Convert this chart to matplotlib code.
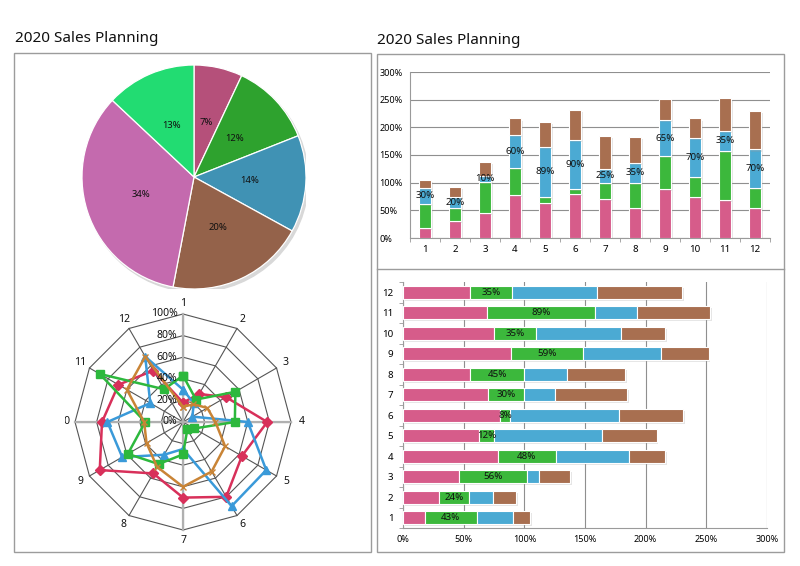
import numpy as np
import matplotlib.pyplot as plt
import matplotlib.patheffects as pe
from matplotlib.patches import Rectangle, Circle
from matplotlib.transforms import Bbox, TransformedBbox

plt.rcParams['font.family'] = ['Noto Sans', 'DejaVu Sans']

W, H = 800, 566

# ── data ──────────────────────────────────────────────────────────────────────
months = [str(i) for i in range(1, 13)]
pink  = [18, 30, 46, 78, 63, 80, 70, 55, 89, 75, 69, 55]
green = [43, 24, 56, 48, 12, 8, 30, 45, 59, 35, 89, 35]
blue  = [30, 20, 10, 60, 89, 90, 25, 35, 65, 70, 35, 70]
brown = [14, 19, 26, 30, 45, 53, 60, 48, 39, 36, 60, 70]

pie_shares  = [7, 12, 14, 20, 34, 13]
pie_colours = ["#B5507A", "#2EA22E", "#4092B4", "#94624A", "#C46AAE", "#22DC72"]

bar_colours   = ["#D65C8A", "#3CB83C", "#4BAAD3", "#A86F50"]
radar_colours = ["#D8305A", "#2DB83D", "#3A9AD9", "#C98436"]

fig = plt.figure(figsize=(W / 100, H / 100), dpi=100, facecolor="white")


def px_axes(x0, y0, x1, y1, **kw):
    return fig.add_axes([x0 / W, 1 - y1 / H, (x1 - x0) / W, (y1 - y0) / H], **kw)


def px_rect(x0, y0, x1, y1):
    fig.add_artist(Rectangle((x0 / W, 1 - y1 / H), (x1 - x0) / W, (y1 - y0) / H,
                             transform=fig.transFigure, fill=False,
                             ec="#9c9c9c", lw=1.0))


# frames + titles
px_rect(14, 53, 371, 552)
px_rect(377, 54, 784, 552)
fig.add_artist(plt.Line2D([377 / W, 784 / W], [1 - 269 / H, 1 - 269 / H],
                          transform=fig.transFigure, color="#9c9c9c", lw=1.0))
fig.text(15 / W, 1 - 38 / H, "2020 Sales Planning", fontsize=11,
         va="center", ha="left", weight="medium", color="#111")
fig.text(377 / W, 1 - 41 / H, "2020 Sales Planning", fontsize=11,
         va="center", ha="left", weight="medium", color="#111")

shadow = [pe.SimplePatchShadow(offset=(1.2, -1.5), shadow_rgbFace="#999", alpha=0.25),
          pe.Normal()]

# ── pie ───────────────────────────────────────────────────────────────────────
ax_pie = px_axes(82, 65, 306, 289)
ax_pie.add_patch(Circle((0.02, -0.025), 1.0, color="#d8d8d8", zorder=0))
ax_pie.pie(pie_shares, colors=pie_colours, startangle=90, counterclock=False,
           labels=[f"{v}%" for v in pie_shares], labeldistance=0.5,
           wedgeprops=dict(edgecolor="white", linewidth=0.9),
           textprops=dict(fontsize=6.8, ha="center", va="center", color="#111"))
ax_pie.set_xlim(-1, 1)
ax_pie.set_ylim(-1, 1)

# ── radar ─────────────────────────────────────────────────────────────────────
ax_r = px_axes(75, 314, 291, 530, projection="polar")
ax_r.set_theta_zero_location("N")
ax_r.set_theta_direction(-1)
ax_r.set_ylim(0, 100)
ax_r.set_axis_off()

angles = np.arange(12) * 2 * np.pi / 12
closed = np.append(angles, angles[0])
for r in range(20, 101, 20):
    ax_r.plot(closed, [r] * 13, color="#555", lw=0.8, clip_on=False)
for a in angles:
    ax_r.plot([a, a], [0, 100], color="#555", lw=0.8, clip_on=False)
ax_r.plot([0, np.pi], [100, 100], color="#b0b0b0", lw=1.6, clip_on=False)
ax_r.plot([np.pi / 2, 3 * np.pi / 2], [100, 100], color="#b0b0b0", lw=1.6, clip_on=False)

series = [(pink, radar_colours[0], "D", 5),
          (blue, radar_colours[2], "^", 6),
          (green, radar_colours[1], "s", 5.5),
          (brown, radar_colours[3], "x", 4)]
for vals, col, mk, ms in series:
    ax_r.plot(closed, vals + vals[:1], color=col, lw=1.8, marker=mk, ms=ms,
              mew=1.0, clip_on=False)

for r in range(0, 101, 20):
    ax_r.annotate(f"{r}%", (0, r), xytext=(-4, 0), textcoords="offset points",
                  ha="right", va="center", fontsize=7.5, color="#111")

clip_box = TransformedBbox(Bbox.from_extents(65 / W, 0, 1, 1), fig.transFigure)
for a, lab in zip(angles, months):
    t = ax_r.text(a, 110, lab, ha="center", va="center", fontsize=7.5, color="#111")
    if lab == "10":
        t.set_clip_box(clip_box)
        t.set_clip_on(True)
    else:
        t.set_clip_on(False)

# ── vertical stacked columns ─────────────────────────────────────────────────
x = np.arange(1, 13)
ax_v = px_axes(410, 72, 770, 238)
base = np.zeros(12)
for vals, col in zip([pink, green, blue, brown], bar_colours):
    ax_v.bar(x, vals, 0.4, bottom=base, color=col, edgecolor="white", lw=0.8,
             zorder=3, path_effects=shadow)
    base += vals
for xi, b, v in zip(x, np.add(pink, green), blue):
    ax_v.text(xi, b + v / 2, f"{v}%", ha="center", va="center", fontsize=7,
              color="#111", zorder=4)
ax_v.set_xlim(0.5, 12.5)
ax_v.set_ylim(0, 300)
ax_v.set_yticks(range(0, 301, 50))
ax_v.set_yticklabels([f"{t}%" for t in range(0, 301, 50)])
ax_v.set_xticks(x)
ax_v.set_xticklabels(months)
ax_v.set_xticks(np.arange(0.5, 13), minor=True)
ax_v.tick_params(axis="y", length=0, labelsize=6.5, pad=22)
for lab in ax_v.get_yticklabels():
    lab.set_ha("left")
ax_v.tick_params(axis="x", which="major", length=0, labelsize=7, pad=5)
ax_v.tick_params(axis="x", which="minor", length=3, color="#999")
ax_v.grid(axis="y", color="#8f8f8f", lw=0.8, zorder=0)
for s in ["top", "right"]:
    ax_v.spines[s].set_visible(False)
for s in ["left", "bottom"]:
    ax_v.spines[s].set_color("#9a9a9a")

# ── horizontal stacked bars ──────────────────────────────────────────────────
ax_h = px_axes(403, 282, 767, 528)
left = np.zeros(12)
for vals, col in zip([pink, green, blue, brown], bar_colours):
    ax_h.barh(x, vals, 0.65, left=left, color=col, edgecolor="white", lw=0.8,
              zorder=3, path_effects=shadow)
    left += vals
for yi, l, v in zip(x, pink, green):
    ax_h.text(l + v / 2, yi, f"{v}%", ha="center", va="center", fontsize=7,
              color="#111", zorder=4)
ax_h.set_xlim(0, 300)
ax_h.set_ylim(0.5, 12.5)
ax_h.set_xticks(range(0, 301, 50))
ax_h.set_xticklabels([f"{t}%" for t in range(0, 301, 50)])
ax_h.set_yticks(x)
ax_h.set_yticklabels(months)
ax_h.set_yticks(np.arange(0.5, 13), minor=True)
ax_h.tick_params(axis="x", length=0, labelsize=6.5, pad=5)
ax_h.tick_params(axis="y", which="major", length=0, labelsize=7, pad=7)
ax_h.tick_params(axis="y", which="minor", length=3, color="#999")
ax_h.grid(axis="x", color="#8f8f8f", lw=0.8, zorder=0)
for s in ["top", "right"]:
    ax_h.spines[s].set_visible(False)
for s in ["left", "bottom"]:
    ax_h.spines[s].set_color("#9a9a9a")

fig.savefig("out.png", dpi=100, facecolor="white")
